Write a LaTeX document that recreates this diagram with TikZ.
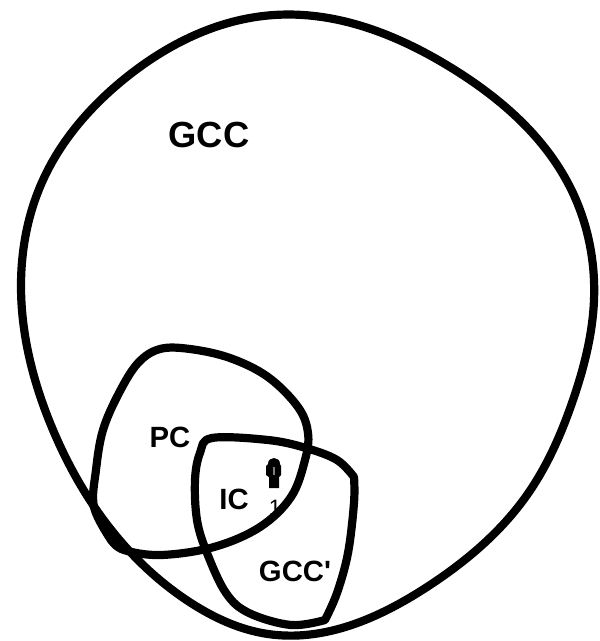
\documentclass[tikz,border=0pt]{standalone}
\usepackage{fontspec}
\newfontfamily\labelfont{Liberation Sans}
\usepackage{tikz}
\usetikzlibrary{hobby}

\begin{document}
\begin{tikzpicture}[x=0.03cm, y=-0.03cm,
		setline/.style={line width=7pt, line join=round, line cap=round},
		setlabel/.style={font=\labelfont\bfseries\fontsize{25}{25}\selectfont, inner sep=0pt}]
		\useasboundingbox (0,0) rectangle (600,641);
		
		\node[inner sep=0pt, font=\labelfont\fontsize{19}{19}\selectfont] (one) at (275,508) {1};
		
		% outer set
		\draw[setline, use Hobby shortcut, closed=true] (274,15) .. (450,67) .. (570,187) .. (594,300) .. (573,400) .. (527,495) .. (427,587) .. (268,634) .. (191,603) .. (117,537) .. (53,430) .. (21,285) .. (43,180) .. (123,80);
		
		% PC
		\draw[setline] plot[smooth, tension=0.6] coordinates {(111,540) (94,507) (96,470) (103,430) (119,393) (138,363) (160,349) (190,349) (230,358) (268,377) (298,407) (308,433) (305,460) (291,497) (260,527) (214,547) (161,555) (124,550) (111,540)};
		
		% IC / GCC'
		\draw[setline] plot[smooth, tension=0.6] coordinates {(354,477) (354,503) (348,553) (337,593) (325,620)}
			-- plot[smooth, tension=0.6] coordinates {(325,620) (291,625) (249,613) (226,593) (207,553) (197,520) (195,480) (200,453) (212,438) (268,440) (306,448) (337,460) (354,477)};
		
		\node[setlabel, font=\labelfont\bfseries\fontsize{31}{31}\selectfont] (gcc) at (209,135) {GCC};
		\node[setlabel] (pc) at (170,437) {PC};
		\node[setlabel] (ic) at (234,499) {IC};
		\node[setlabel] (gccp) at (295,571) {GCC'};
		
		% small mark
		\fill (269,488) -- (269,477) -- (266,475) -- (266,466) -- (268,464) .. controls (268,456) and (280,456) .. (280,464) -- (281,466) -- (281,475) -- (279,477) -- (279,488) -- cycle;
		\draw[gray, line width=1pt] (274,467) -- (274,475);
	\end{tikzpicture}
\end{document}
